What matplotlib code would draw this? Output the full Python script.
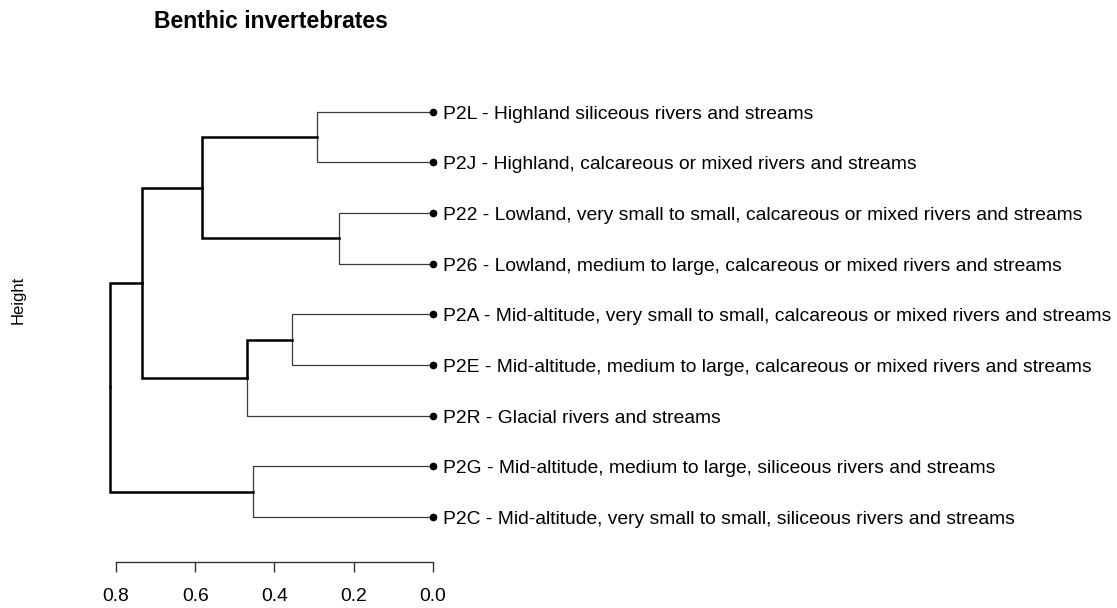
import matplotlib
matplotlib.use("Agg")
import matplotlib.pyplot as plt

plt.rcParams['font.family'] = ['Liberation Sans', 'DejaVu Sans']

# leaves, top to bottom
labels = [
    "P2L - Highland siliceous rivers and streams",
    "P2J - Highland, calcareous or mixed rivers and streams",
    "P22 - Lowland, very small to small, calcareous or mixed rivers and streams",
    "P26 - Lowland, medium to large, calcareous or mixed rivers and streams",
    "P2A - Mid-altitude, very small to small, calcareous or mixed rivers and streams",
    "P2E - Mid-altitude, medium to large, calcareous or mixed rivers and streams",
    "P2R - Glacial rivers and streams",
    "P2G - Mid-altitude, medium to large, siliceous rivers and streams",
    "P2C - Mid-altitude, very small to small, siliceous rivers and streams",
]

# merges: negative = leaf index (-(i+1)), positive = earlier merge (1-based), like hclust
merge_a = [-1, -3, -5, 3, -8, 1, 6, 7]
merge_b = [-2, -4, -6, -7, -9, 2, 4, 5]
merge_h = [0.2915, 0.237, 0.3555, 0.470, 0.454, 0.582, 0.734, 0.815]

tick_vals = [0.8, 0.6, 0.4, 0.2, 0.0]

W, H = 1117, 608
fig = plt.figure(figsize=(W / 100, H / 100), dpi=100)
# axes box in pixels: x 100..440, y 80..561.7
ax = fig.add_axes([100 / W, (H - 561.7) / H, 340 / W, (561.7 - 80) / H])
ax.set_xlim(0.8406, -0.0184)
ax.set_ylim(8.88, -0.626)


def node_pos(ref):
    if ref < 0:
        return 0.0, float(-ref - 1), True
    k = ref - 1
    _, ya, _ = node_pos(merge_a[k])
    _, yb, _ = node_pos(merge_b[k])
    return merge_h[k], (ya + yb) / 2, False


for k in range(len(merge_h)):
    h, y, _ = node_pos(k + 1)
    for child in (merge_a[k], merge_b[k]):
        ch, cy, leaf = node_pos(child)
        if leaf:
            lw, col = 0.9, '#3a3a3a'
        else:
            lw, col = 1.8, 'black'
        ax.plot([h, h, ch], [y, cy, cy], color=col, lw=lw,
                solid_joinstyle='miter', solid_capstyle='projecting')

fs = 13.85
for i, lab in enumerate(labels):
    ax.plot(0, i, 'o', color='black', ms=4.5, clip_on=False, zorder=3)
    # baseline shifted so capitals sit centred on the dot
    ax.annotate(lab, (0, i), xytext=(7.2, -0.358 * fs), textcoords='offset points',
                va='baseline', ha='left', fontsize=fs, annotation_clip=False)

for s in ['top', 'right', 'left']:
    ax.spines[s].set_visible(False)
ax.spines['bottom'].set_bounds(0.8, 0.0)
ax.spines['bottom'].set_color('#333333')
ax.spines['bottom'].set_linewidth(1)
ax.set_yticks([])
ax.set_xticks(tick_vals)
ax.set_xticklabels([f"{v:.1f}" for v in tick_vals])
ax.tick_params(axis='x', length=7.2, width=1, color='#333333',
               labelsize=fs, pad=11.5)

fig.text(154 / W, 1 - 22 / H, "Benthic invertebrates", fontsize=16.5,
         fontweight='bold', ha='left', va='center')
fig.text(18 / W, 1 - 300 / H, "Height", rotation=90, fontsize=12,
         ha='center', va='center')

fig.savefig("out.png", dpi=100, facecolor='white')
